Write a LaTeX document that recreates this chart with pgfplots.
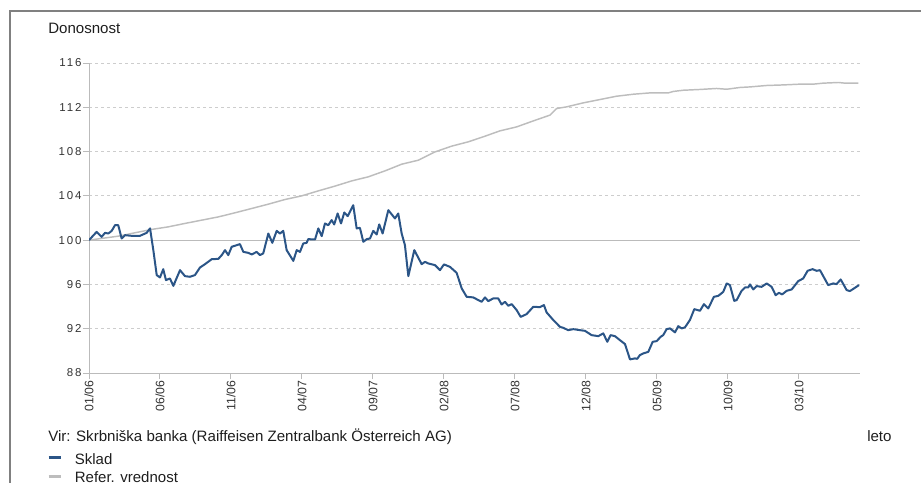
\documentclass[border=0pt]{standalone}
\usepackage{pgfplots}
\pgfplotsset{compat=1.18}
\usepackage{fontspec}
\setmainfont{Liberation Sans}
\definecolor{fund}{HTML}{2B5587}
\definecolor{refc}{HTML}{BDBDBD}
\definecolor{gridc}{HTML}{CDCDCD}
\definecolor{axc}{HTML}{BBBBBB}
\definecolor{framec}{HTML}{808080}
\definecolor{txt}{HTML}{1E1E1E}
\definecolor{tickc}{HTML}{333333}
\begin{document}
\begin{tikzpicture}[x=0.75pt,y=-0.75pt]
\useasboundingbox (0,0) rectangle (921,482);
\draw[framec, line width=1.5pt] (10,520) -- (10,11) -- (960,11);
\begin{axis}[
  at={(66.75pt,-279.75pt)}, anchor=south west,
  scale only axis, width=578.25pt, height=232.5pt,
  xmin=0, xmax=54.3, ymin=88, ymax=116,
  axis x line=bottom, axis y line=left,
  axis line style={axc, line width=0.75pt, -},
  xtick={0,5,...,50},
  xticklabels={01/06,06/06,11/06,04/07,09/07,02/08,07/08,12/08,05/09,10/09,03/10},
  x tick label style={rotate=90, anchor=east, font=\fontsize{9.2}{10}\selectfont, text=tickc, inner sep=1pt},
  ytick={88,92,96,104,108,112,116},
  extra y ticks={100},
  extra y tick style={major grid style={draw=axc, solid, line width=0.75pt}},
  ymajorgrids,
  grid style={draw=gridc, dash pattern=on 2.25pt off 2.25pt, line width=0.6pt},
  tick align=outside, major tick length=4.5pt,
  tick style={axc, line width=0.75pt},
  y tick label style={font=\fontsize{8.6}{10}\selectfont\addfontfeatures{LetterSpace=16}, text=tickc, inner sep=0pt, xshift=-1pt},
  /pgf/number format/assume math mode=true,
  reverse legend,
  legend cell align=left,
  legend style={at={(axis description cs:-0.0545,-0.259)}, anchor=north west,
    draw=none, fill=none, inner sep=0pt, row sep=3.5pt, column sep=9.5pt,
    font=\fontsize{11.25}{13}\selectfont, text=txt,
    nodes={inner sep=0pt, text height=8pt, text depth=2.5pt}},
  legend image code/.code={\draw[#1, line width=2.2pt] (0pt,2.2pt) -- (9pt,2.2pt);},
]
\addplot[refc, line width=1.1pt] table {
x y
0 100
2.06 100.36
4.42 100.97
5.58 101.20
6.76 101.51
9.11 102.10
10.28 102.47
11.46 102.86
12.63 103.25
13.80 103.67
14.98 104.00
16.15 104.45
17.32 104.88
18.50 105.35
19.67 105.72
20.85 106.26
22.02 106.86
23.19 107.22
24.37 107.97
25.54 108.49
26.71 108.88
27.89 109.39
28.94 109.87
30.12 110.23
31.29 110.77
32.46 111.29
32.94 111.89
33.64 112.04
34.81 112.40
35.99 112.70
37.16 113.00
38.33 113.18
39.51 113.30
40.80 113.30
41.15 113.43
41.85 113.54
43.03 113.61
44.20 113.70
44.91 113.63
45.85 113.79
46.55 113.84
47.73 113.97
48.89 114.02
50.07 114.09
51.01 114.09
51.71 114.18
52.77 114.24
53.24 114.18
54.18 114.18
};
\addlegendentry{Refer. vrednost}
\addplot[fund, line width=1.5pt, line join=round] table {
x y
0 100
0.54 100.75
0.89 100.30
1.13 100.66
1.36 100.60
1.60 100.84
1.83 101.35
2.06 101.35
2.30 100.15
2.54 100.45
3.01 100.39
3.59 100.39
4.06 100.66
4.30 101.06
4.53 99.10
4.77 96.84
5.00 96.63
5.23 97.38
5.42 96.39
5.70 96.54
5.94 95.87
6.41 97.29
6.76 96.75
7.11 96.69
7.46 96.84
7.82 97.53
8.17 97.83
8.64 98.28
9.11 98.31
9.35 98.65
9.58 99.10
9.81 98.65
10.05 99.40
10.63 99.64
10.87 98.94
11.22 98.85
11.46 98.71
11.81 98.94
12.04 98.65
12.27 98.80
12.63 100.60
12.91 99.76
13.22 100.84
13.45 100.60
13.68 100.84
13.92 99.10
14.39 98.13
14.63 99.10
14.86 98.94
15.09 99.70
15.33 99.76
15.44 100.09
15.92 100.06
16.15 101.06
16.39 100.36
16.62 101.51
16.85 101.35
17.09 101.81
17.27 101.42
17.51 102.41
17.75 101.51
17.98 102.50
18.22 102.17
18.61 103.16
18.85 101.06
19.08 101.11
19.32 99.85
19.56 100.09
19.79 100.15
20.02 100.84
20.26 100.51
20.44 101.42
20.68 100.60
21.08 102.71
21.55 101.96
21.78 102.41
22.02 100.60
22.25 99.55
22.49 96.75
22.91 99.10
23.43 97.83
23.66 98.04
23.89 97.90
24.37 97.74
24.72 97.29
25.00 97.81
25.42 97.59
25.89 97.05
26.25 95.64
26.60 94.88
27.06 94.83
27.65 94.43
27.89 94.83
28.12 94.49
28.47 94.74
28.82 94.74
29.06 94.19
29.30 94.43
29.53 94.07
29.77 94.22
30.12 93.68
30.40 93.07
30.82 93.32
31.29 93.98
31.76 93.95
32.04 94.13
32.23 93.47
32.70 92.78
33.17 92.17
33.40 92.08
33.75 91.87
34.11 91.96
34.58 91.87
34.93 91.81
35.40 91.42
35.87 91.33
36.22 91.58
36.50 90.82
36.74 91.42
37.04 91.33
37.39 90.97
37.75 90.61
38.10 89.23
38.45 89.32
38.61 89.28
38.80 89.62
39.04 89.77
39.39 89.91
39.70 90.82
39.98 90.88
40.26 91.27
40.44 91.42
40.68 91.96
40.92 92.03
41.27 91.67
41.50 92.23
41.74 92.03
41.97 92.12
42.32 92.78
42.63 93.77
43.03 93.62
43.31 94.22
43.61 93.83
44.01 94.88
44.32 94.97
44.67 95.33
44.91 96.09
45.14 95.94
45.44 94.52
45.61 94.58
45.96 95.42
46.20 95.73
46.43 95.73
46.55 96.00
46.78 95.55
47.02 95.85
47.37 95.78
47.73 96.09
48.08 95.78
48.36 95.03
48.59 95.24
48.82 95.10
49.13 95.42
49.49 95.55
49.95 96.30
50.30 96.54
50.61 97.23
50.96 97.38
51.25 97.23
51.48 97.29
52.06 95.94
52.42 96.09
52.65 96.03
52.94 96.45
53.36 95.49
53.59 95.40
54.23 95.94
};
\addlegendentry{Sklad}
\end{axis}
\node[anchor=base west, inner sep=0pt, font=\fontsize{11.3}{13}\selectfont, text=txt] at (48,33.3) {Donosnost};
\node[anchor=base west, inner sep=0pt, font=\fontsize{11.3}{13}\selectfont, text=txt] at (48,441) {Vir: Skrbniška banka (Raiffeisen Zentralbank Österreich AG)};
\node[anchor=base west, inner sep=0pt, font=\fontsize{11.3}{13}\selectfont, text=txt] at (867,441.5) {leto};
\end{tikzpicture}
\end{document}
